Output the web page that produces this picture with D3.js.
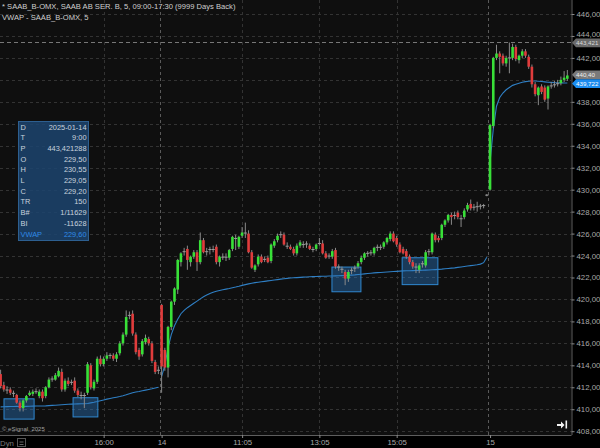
<!DOCTYPE html>
<html><head><meta charset="utf-8">
<script src="https://cdn.jsdelivr.net/npm/d3@7"></script>
<style>
html,body{margin:0;padding:0;background:#000;}
svg{display:block;font-family:"Liberation Sans",Arial,sans-serif;}
</style></head><body>
<svg id="c" width="600" height="448"></svg>
<script>
// ---- DATA ----
const opens = [
413.2,412.2,411.8,411.8,411.5,411.3,410.6,410.1,410.8,411.3,
411.4,411.6,411.2,411.6,411.2,412.0,412.7,412.7,413.0,413.4,
411.8,412.6,412.4,412.6,411.7,411.3,411.2,411.5,414.0,411.9,
412.5,414.6,414.1,414.6,414.9,414.9,414.6,415.1,416.0,416.8,
418.5,418.7,416.8,415.4,415.0,416.1,416.4,416.0,414.3,413.5,
419.5,415.4,413.8,417.5,419.8,420.9,423.4,424.3,424.6,423.4,
423.9,424.3,423.4,425.4,424.3,424.5,424.6,424.8,423.4,423.9,
423.8,423.8,424.6,425.6,424.8,425.8,426.0,426.0,424.3,422.7,
423.2,423.9,423.6,423.8,423.5,424.9,425.4,425.9,425.9,424.9,
424.8,424.6,424.2,424.9,425.0,425.0,424.9,424.6,424.6,425.1,
425.1,424.2,423.9,423.9,424.5,423.0,422.8,422.5,421.9,422.6,
422.8,423.0,423.4,423.8,424.2,424.2,424.2,424.7,424.8,424.8,
425.2,425.5,426.0,425.6,425.0,424.6,424.4,423.9,423.4,423.0,
422.7,423.2,423.1,424.3,424.3,425.9,425.6,425.6,426.8,427.2,
427.7,427.6,427.9,427.4,427.5,428.2,428.7,428.4,428.4,428.5,
428.5,429.5,
430.0,435.8,442.0,442.4,442.2,441.5,442.0,442.0,443.0,441.8,
442.2,442.6,442.1,441.2,439.6,438.6,439.4,439.3,438.3,439.4,
439.5,439.6,439.7,440.0,440.1];
const highs = [
413.6,412.5,412.1,412.0,411.7,411.4,410.8,410.9,411.3,411.7,
411.8,411.9,411.8,411.8,412.1,412.9,413.0,413.3,413.8,413.7,
412.8,412.9,412.7,412.9,411.9,411.6,411.5,414.3,414.2,412.7,
414.8,414.9,414.8,415.2,415.1,415.1,415.2,416.2,417.0,419.0,
418.9,419.0,417.0,415.6,416.4,416.8,416.6,416.2,414.5,413.9,
419.6,415.6,417.6,419.9,421.1,423.7,424.3,424.7,424.9,424.0,
424.5,424.5,426.1,425.6,424.7,424.8,424.9,425.0,424.0,424.2,
424.2,424.6,425.8,425.9,425.8,426.6,427.0,426.3,424.5,423.2,
424.1,424.1,423.9,424.0,425.1,425.5,426.0,426.2,426.1,425.2,
425.0,424.8,425.1,425.4,425.3,425.3,425.1,424.8,425.1,425.6,
425.4,424.4,424.2,424.6,424.7,423.2,423.0,422.7,422.7,422.9,
423.1,423.5,424.0,424.3,424.4,424.5,424.8,425.0,425.0,425.3,
425.7,426.2,426.2,425.8,425.2,424.8,424.6,424.1,423.6,423.3,
423.3,423.5,424.5,424.6,426.1,426.1,425.8,426.9,427.3,427.8,
427.9,428.0,428.1,427.7,428.3,428.8,429.1,428.7,428.9,428.7,
428.7,429.6,
436.0,442.1,443.2,442.6,442.4,442.2,443.4,443.3,443.2,442.3,
442.8,442.8,442.3,441.4,439.8,439.4,439.6,439.5,439.5,439.8,
439.9,440.0,440.3,440.8,440.9];
const lows = [
411.9,411.6,411.4,411.3,411.1,410.5,409.8,409.8,410.6,411.2,
411.2,411.4,411.0,410.7,411.0,411.9,412.5,412.6,412.9,411.6,
411.6,412.1,412.2,411.5,411.1,410.9,410.1,411.3,411.8,411.7,
412.3,413.9,413.9,414.4,414.6,414.4,414.3,414.9,415.8,416.6,
418.2,416.7,415.0,414.5,414.8,415.9,415.8,414.2,413.2,413.2,
411.5,413.5,412.9,417.2,419.5,420.5,423.0,424.0,422.7,423.0,
423.7,422.6,423.2,424.2,424.0,424.1,424.3,423.2,423.0,423.6,
423.5,423.6,424.4,424.5,424.6,425.6,425.6,424.2,422.8,422.5,
423.0,423.3,423.4,423.3,423.3,424.7,425.2,425.6,424.9,424.6,
424.5,424.0,424.0,424.7,424.7,424.7,424.5,424.3,424.4,424.9,
424.1,423.7,423.7,423.7,422.8,422.6,422.4,421.3,421.6,422.3,
422.5,422.8,423.2,423.6,423.9,424.0,424.0,424.4,424.5,424.6,
425.0,425.3,425.2,424.8,424.2,424.1,423.7,423.2,422.8,422.4,
422.4,422.9,422.9,424.0,424.1,425.2,425.2,425.4,426.6,427.0,
426.8,427.3,427.3,426.6,427.3,428.0,428.1,428.1,428.0,428.2,
428.3,429.4,
429.9,435.6,441.8,440.6,441.3,441.2,440.6,441.8,441.7,441.5,
442.0,442.0,441.0,439.3,438.5,437.7,438.7,438.0,437.3,439.2,
439.3,439.4,439.5,439.8,439.9];
const closes = [
412.1,411.8,411.7,411.5,411.4,410.6,410.1,410.8,411.2,411.5,
411.6,411.6,411.6,411.0,412.0,412.7,412.8,413.1,413.5,411.8,
412.6,412.3,412.5,411.7,411.3,411.2,411.3,414.1,412.0,412.5,
414.6,414.1,414.6,414.9,414.9,414.6,415.0,416.0,416.8,418.4,
418.6,416.9,415.2,414.8,416.2,416.5,416.0,414.4,413.4,413.6,
413.9,413.8,417.5,419.8,421.0,423.6,424.2,424.4,423.6,423.9,
424.3,423.4,425.4,424.3,424.4,424.6,424.5,423.4,423.9,423.8,
423.9,424.5,425.7,425.5,425.7,426.1,426.1,424.3,422.9,423.1,
423.9,423.4,423.7,423.4,425.0,425.3,425.8,425.9,425.0,424.8,
424.6,424.2,424.9,425.2,425.0,425.1,424.6,424.5,425.0,425.1,
424.2,423.8,424.0,424.4,423.0,422.9,422.7,421.9,422.5,422.7,
422.9,423.3,423.8,424.2,424.2,424.3,424.7,424.8,424.7,425.2,
425.6,426.0,425.3,425.0,424.3,424.2,423.9,423.4,423.0,422.9,
423.1,423.3,424.3,424.4,426.0,425.4,425.4,426.8,427.2,427.7,
427.5,427.7,427.5,427.3,428.1,428.6,428.3,428.4,428.5,428.5,
428.6,429.5,
435.9,442.0,442.4,442.1,441.5,442.0,442.0,443.0,441.9,442.2,
442.6,442.2,441.2,439.6,438.7,439.3,438.9,438.2,439.4,439.5,
439.6,439.7,440.0,440.2,440.4];
const vwap = [
410.22,410.23,410.24,410.25,410.25,410.26,410.25,410.25,410.26,410.27,
410.28,410.29,410.30,410.30,410.31,410.33,410.35,410.37,410.39,410.41,
410.43,410.45,410.47,410.48,410.49,410.50,410.50,410.53,410.58,410.63,
410.70,410.78,410.85,410.92,410.98,411.04,411.10,411.16,411.23,411.32,
411.42,411.50,411.57,411.62,411.68,411.74,411.80,411.86,411.93,412.00,
413.0,414.0,415.6,416.8,417.6,418.2,418.7,419.0,419.25,419.45,
419.65,419.85,420.05,420.25,420.4,420.55,420.65,420.75,420.82,420.88,
420.94,421.0,421.07,421.13,421.2,421.28,421.35,421.42,421.48,421.53,
421.57,421.61,421.65,421.69,421.73,421.77,421.81,421.85,421.89,421.92,
421.95,421.97,421.99,422.01,422.03,422.05,422.07,422.08,422.09,422.10,
422.11,422.12,422.13,422.14,422.15,422.16,422.17,422.18,422.20,422.22,
422.24,422.27,422.30,422.33,422.36,422.39,422.42,422.44,422.46,422.48,
422.50,422.52,422.54,422.56,422.58,422.60,422.61,422.62,422.63,422.64,
422.65,422.66,422.67,422.68,422.70,422.72,422.74,422.76,422.79,422.82,
422.85,422.88,422.92,422.96,423.00,423.04,423.08,423.12,423.16,423.22,
423.35,423.85,
432.5,435.5,437.6,438.4,438.8,439.1,439.3,439.5,439.6,439.7,
439.78,439.84,439.88,439.9,439.9,439.88,439.85,439.82,439.79,439.77,
439.75,439.74,439.73,439.72,439.72];
const dayStarts = [0, 50, 152];
const timeTickBars = [32, 50, 75, 99, 123, 152];
const timeTickLabels = ["16:00", "14", "11:05", "13:05", "15:05", "15"];
const priceTicks = d3.range(408, 447, 2);
// highlight zones: [barFrom, barTo, priceLow, priceHigh]
const zones = [[1.05, 10.4, 409.1, 410.95], [22.5, 30.2, 409.3, 411.05],
               [102.9, 111.9, 420.7, 422.95], [124.7, 135.8, 421.35, 423.8]];
const lastPrice = 440.40, lastVwap = 439.722, refPrice = 443.421288;
const tagTexts = ["443,421", "440,40", "439,722"];
const infoLabels = ["D","T","P","O","H","L","C","TR","B#","BI","VWAP"];
const infoValues = ["2025-01-14","9:00","443,421288","229,50","230,55","229,05","229,20","150","1/11629","-11628","229,60"];
const headerLines = ["* SAAB_B-OMX, SAAB AB SER. B, 5, 09:00-17:30 (9999 Days Back)", "VWAP - SAAB_B-OMX, 5"];

// ---- CHART ----
const svg = d3.select("#c");
const plotR = 571.5, plotB = 435;
const x = d3.scaleLinear().domain([0, 176]).range([0.61, 0.61 + 3.22 * 176]);
const y = d3.scaleLinear().domain([408, 446]).range([431.2, 14]);
const fmt = v => d3.format(".2f")(v).replace(".", ",");

svg.append("rect").attr("width", 600).attr("height", 448).attr("fill", "#000");
svg.append("rect").attr("width", plotR).attr("height", plotB).attr("fill", "#0f0f0f");
svg.append("clipPath").attr("id", "clp").append("rect").attr("width", plotR).attr("height", plotB);
const g = svg.append("g").attr("clip-path", "url(#clp)");

// grid
g.selectAll(".hg").data(priceTicks).join("line")
  .attr("x1", 0).attr("x2", plotR).attr("y1", d => Math.round(y(d)) + 0.5).attr("y2", d => Math.round(y(d)) + 0.5)
  .attr("stroke", "#333").attr("stroke-dasharray", "3,3");
g.selectAll(".vg").data(timeTickBars.filter(b => !dayStarts.includes(b))).join("line")
  .attr("x1", d => Math.round(x(d)) + 0.5).attr("x2", d => Math.round(x(d)) + 0.5).attr("y1", 0).attr("y2", plotB)
  .attr("stroke", "#333").attr("stroke-dasharray", "3,3");
g.selectAll(".dg").data(dayStarts.slice(1)).join("line")
  .attr("x1", d => Math.round(x(d - 0.5)) + 0.5).attr("x2", d => Math.round(x(d - 0.5)) + 0.5).attr("y1", 0).attr("y2", plotB)
  .attr("stroke", "#5a5a5a").attr("stroke-dasharray", "3,3");

// reference price line
g.append("line").attr("x1", 0).attr("x2", plotR).attr("y1", Math.round(y(refPrice)) + 0.5).attr("y2", Math.round(y(refPrice)) + 0.5)
  .attr("stroke", "#777").attr("stroke-dasharray", "4,3");

// zones
g.selectAll(".zone").data(zones).join("rect")
  .attr("x", d => x(d[0])).attr("width", d => x(d[1]) - x(d[0]))
  .attr("y", d => y(d[3])).attr("height", d => y(d[2]) - y(d[3]))
  .attr("fill", "rgba(45,130,210,0.38)").attr("stroke", "#3088d0").attr("stroke-width", 1);

// vwap
const line = d3.line().x(d => x(d)).y(d => y(vwap[d]));
dayStarts.forEach((s, k) => {
  const e = k < dayStarts.length - 1 ? dayStarts[k + 1] : vwap.length;
  g.append("path").datum(d3.range(s, e)).attr("d", line)
    .attr("fill", "none").attr("stroke", "#2f7fc4").attr("stroke-width", 1.1);
});

// candles
const bars = opens.map((o, i) => ({i, o, h: highs[i], l: lows[i], c: closes[i]}));
const isDoji = d => Math.abs(d.c - d.o) <= 0.101;
const col = d => isDoji(d) ? "#9a9a9a" : (d.c > d.o ? "#38e038" : "#e03c3c");
g.selectAll(".wick").data(bars).join("line")
  .attr("x1", d => x(d.i)).attr("x2", d => x(d.i)).attr("y1", d => y(d.h)).attr("y2", d => y(d.l))
  .attr("stroke", "#8a8a8a").attr("stroke-width", 1);
const bw = 2.6;
g.selectAll(".body").data(bars).join("rect")
  .attr("x", d => x(d.i) - (isDoji(d) ? 1.6 : bw / 2)).attr("width", d => isDoji(d) ? 3.2 : bw)
  .attr("y", d => isDoji(d) ? y((d.o + d.c) / 2) - 0.5 : y(Math.max(d.o, d.c)))
  .attr("height", d => isDoji(d) ? 1 : Math.max(1, Math.abs(y(d.o) - y(d.c))))
  .attr("fill", col);

// header
svg.selectAll(".hdr").data(headerLines).join("text")
  .attr("x", 2).attr("y", (d, k) => 9 + k * 11).attr("font-size", 7.6).attr("fill", "#cfcfcf").text(d => d);

// info box
const ib = svg.append("g");
ib.append("rect").attr("x", 18.5).attr("y", 121.5).attr("width", 70).attr("height", 119)
  .attr("fill", "rgba(28,68,110,0.85)").attr("stroke", "#2d5f90");
infoLabels.forEach((lab, k) => {
  const yy = 129.5 + k * 10.7;
  const c = lab === "VWAP" ? "#2f8ae6" : "#c9d3de";
  ib.append("text").attr("x", 20.5).attr("y", yy).attr("font-size", 7.4).attr("fill", c).text(lab);
  ib.append("text").attr("x", 86.5).attr("y", yy).attr("font-size", 7.4).attr("fill", c).attr("text-anchor", "end").text(infoValues[k]);
});

// right axis (tick label hidden where the last-price tag sits, as in the original)
let yLast = y(lastPrice), yV = y(lastVwap);
if (yV - yLast < 9) { const m = (yLast + yV) / 2; yLast = m - 4.4; yV = m + 4.4; }
const ya = svg.append("g").attr("transform", `translate(${plotR},0)`)
  .call(d3.axisRight(y).tickValues(priceTicks.filter(v => Math.abs(y(v) - yLast) > 6 && Math.abs(y(v) - yV) > 6)).tickFormat(fmt).tickSize(3).tickPadding(2));
ya.select(".domain").attr("stroke", "#5e5e5e").attr("d", `M0.5,0V${plotB}`);
ya.selectAll(".tick line").attr("stroke", "#8a8a8a");
ya.selectAll(".tick text").attr("fill", "#a8a8a8").attr("font-size", 7.8).attr("font-family", '"Liberation Sans",Arial,sans-serif')
  .attr("dy", d => d === 444 ? "0.1em" : "0.32em");

// bottom axis
svg.append("line").attr("x1", 0).attr("x2", plotR).attr("y1", plotB + 0.5).attr("y2", plotB + 0.5).attr("stroke", "#5e5e5e");
const xa = svg.append("g").attr("transform", `translate(0,${plotB})`)
  .call(d3.axisBottom(x).tickValues(timeTickBars).tickFormat((d, k) => timeTickLabels[k]).tickSize(3).tickPadding(1));
xa.select(".domain").remove();
xa.selectAll(".tick line").attr("stroke", "#8a8a8a");
xa.selectAll(".tick text").attr("fill", "#a8a8a8").attr("font-size", 7.8).attr("font-family", '"Liberation Sans",Arial,sans-serif');

// price tags on right
function tag(yc, txt, bg, fg) {
  const t = svg.append("g");
  t.append("path").attr("d", `M${plotR + 0.5},${yc} L${plotR + 4.5},${yc - 4.4} H600 V${yc + 4.4} H${plotR + 4.5} Z`).attr("fill", bg);
  t.append("text").attr("x", plotR + 4.5).attr("y", yc + 2.4).attr("font-size", 6.2).attr("fill", fg).text(txt);
}
tag(y(refPrice) + 0.5, tagTexts[0], "#6a6a6a", "#d8d8d8");
tag(yLast, tagTexts[1], "#7a7a7a", "#f0f0f0");
tag(yV, tagTexts[2], "#1b8cf0", "#ffffff");

// footer texts
svg.append("text").attr("x", 2).attr("y", 430.5).attr("font-size", 6).attr("fill", "#a0a0a0").text("\u00a9 eSignal, 2025");
svg.append("text").attr("x", 0).attr("y", 446).attr("font-size", 7.8).attr("fill", "#7a7a7a").text("Dyn");
svg.append("rect").attr("x", 17.5).attr("y", 438.5).attr("width", 8).attr("height", 8).attr("fill", "none").attr("stroke", "#555");
svg.append("path").attr("d", "M19.5,444.5 h4 M19.5,442 h4").attr("stroke", "#666");
svg.append("path").attr("d", "M557,424 h4 v-2.5 l3.5,3.5 l-3.5,3.5 v-2.5 h-4 Z").attr("fill", "#f2f2f2");
svg.append("rect").attr("x", 565.5).attr("y", 420.5).attr("width", 1.6).attr("height", 8).attr("fill", "#f2f2f2");
</script>
</body></html>
